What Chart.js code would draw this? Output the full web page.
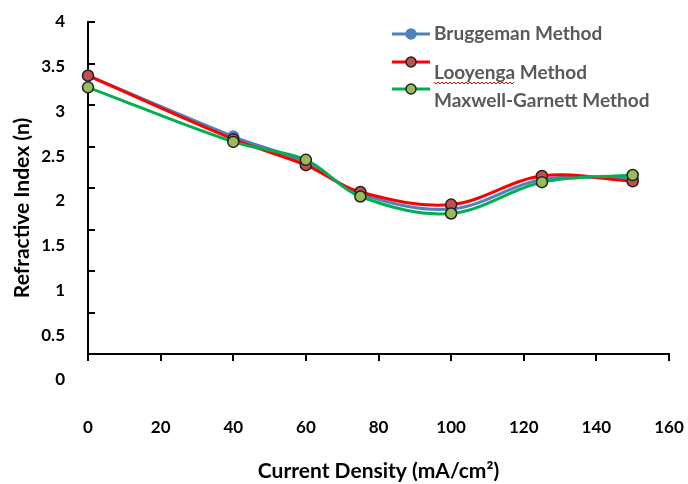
<!DOCTYPE html>
<html>
<head>
<meta charset="utf-8">
<script src="https://cdn.jsdelivr.net/npm/chart.js@4/dist/chart.umd.min.js"></script>
<style>
html,body{margin:0;padding:0;background:#fff;}
#wrap{width:688px;height:484px;position:relative;}
</style>
</head>
<body>
<div id="wrap"><canvas id="c" width="688" height="484"></canvas></div>
<script>
// ---- data ----
const currentDensity = [0, 40, 60, 75, 100, 125, 150];
const bruggeman      = [3.40, 2.72, 2.43, 2.08, 1.91, 2.24, 2.25];
const looyenga       = [3.40, 2.69, 2.40, 2.10, 1.96, 2.28, 2.22];
const maxwellGarnett = [3.27, 2.66, 2.46, 2.05, 1.86, 2.21, 2.29];
const seriesNames = ['Bruggeman Method', 'Looyenga Method', 'Maxwell-Garnett Method'];
const xTickValues = [0, 20, 40, 60, 80, 100, 120, 140, 160];
const yTickValues = [0, 0.5, 1, 1.5, 2, 2.5, 3, 3.5, 4];
const xTitle = 'Current Density (mA/cm\u00B2)';
const yTitle = 'Refractive Index (n)';

const FONT = 'Lato';
const pts = (ys) => currentDensity.map((x, i) => ({x: x, y: ys[i]}));

const styles = [
  {line: '#4F81BD', fill: '#4F81BD', border: '#4F81BD'},
  {line: '#FF0000', fill: '#C0504D', border: '#222222'},
  {line: '#00B050', fill: '#9BBB59', border: '#222222'}
];
const seriesData = [bruggeman, looyenga, maxwellGarnett];

const datasets = seriesData.map((d, i) => ({
  label: seriesNames[i],
  data: pts(d),
  borderColor: styles[i].line,
  borderWidth: 3,
  backgroundColor: styles[i].fill,
  pointBackgroundColor: styles[i].fill,
  pointBorderColor: styles[i].border,
  pointBorderWidth: 1.5,
  pointRadius: 5.5,
  tension: 0.35,
  fill: false,
  clip: false,
  order: 2 - i
}));

const extras = {
  id: 'extras',
  afterDraw(chart) {
    const ctx = chart.ctx;
    const a = chart.chartArea;
    // inner tick marks on y axis
    ctx.save();
    ctx.strokeStyle = '#000';
    ctx.lineWidth = 2;
    for (let k = 1; k <= 8; k++) {
      const y = Math.round(a.bottom - k * (a.bottom - a.top) / 8);
      ctx.beginPath();
      ctx.moveTo(a.left, y);
      ctx.lineTo(a.left + 7, y);
      ctx.stroke();
    }
    ctx.restore();
    // y title
    ctx.save();
    ctx.translate(22, 208);
    ctx.rotate(-Math.PI / 2);
    ctx.font = 'bold 21px ' + FONT;
    ctx.fillStyle = '#000';
    ctx.textAlign = 'center';
    ctx.textBaseline = 'middle';
    ctx.fillText(yTitle, 0, 0);
    ctx.restore();
    // legend
    const lineY = [34, 62, 89];
    const textY = [34, 73, 101];
    ctx.save();
    for (let i = 0; i < 3; i++) {
      ctx.strokeStyle = styles[i].line;
      ctx.lineWidth = 3;
      ctx.beginPath();
      ctx.moveTo(392, lineY[i]);
      ctx.lineTo(430, lineY[i]);
      ctx.stroke();
      ctx.beginPath();
      ctx.arc(411, lineY[i], 5, 0, Math.PI * 2);
      ctx.fillStyle = styles[i].fill;
      ctx.fill();
      ctx.lineWidth = 1.5;
      ctx.strokeStyle = styles[i].border;
      ctx.stroke();
      ctx.font = 'bold 19px ' + FONT;
      ctx.fillStyle = '#595959';
      ctx.textAlign = 'left';
      ctx.textBaseline = 'middle';
      ctx.fillText(seriesNames[i], 434, textY[i]);
    }
    // spell-check squiggle under "Looyenga"
    const w = ctx.measureText('Looyenga').width;
    ctx.strokeStyle = '#FF0000';
    ctx.lineWidth = 1;
    ctx.beginPath();
    let up = true;
    for (let x = 434; x <= 434 + w; x += 2) {
      const y = up ? 82 : 84;
      if (x === 434) ctx.moveTo(x, y); else ctx.lineTo(x, y);
      up = !up;
    }
    ctx.stroke();
    ctx.restore();
  }
};

new Chart(document.getElementById('c'), {
  type: 'line',
  data: {datasets: datasets},
  options: {
    responsive: false,
    animation: false,
    devicePixelRatio: 1,
    layout: {padding: {top: 22, right: 19, bottom: 0, left: 0}},
    plugins: {legend: {display: false}, tooltip: {enabled: false}},
    scales: {
      x: {
        type: 'linear',
        min: 0,
        max: 160,
        afterBuildTicks: (s) => { s.ticks = xTickValues.map(v => ({value: v})); },
        afterFit: (s) => { s.height = 130; s.paddingLeft = 0; s.paddingRight = 0; },
        border: {display: true, color: '#000', width: 2},
        grid: {display: true, drawOnChartArea: false, drawTicks: true, tickLength: 7, color: '#000', lineWidth: 2},
        ticks: {padding: 56, autoSkip: false, maxRotation: 0, color: '#000', font: {family: FONT, weight: 'bold', size: 17}},
        title: {display: true, text: xTitle, color: '#000', padding: {top: 0, bottom: 0}, font: {family: FONT, weight: 'bold', size: 21}}
      },
      y: {
        type: 'linear',
        min: 0.29,
        max: 4,
        afterBuildTicks: (s) => { s.ticks = yTickValues.map(v => ({value: v})); },
        afterFit: (s) => { s.width = 88; s.paddingTop = 0; s.paddingBottom = 0; },
        border: {display: true, color: '#000', width: 2},
        grid: {display: false, drawTicks: false},
        ticks: {padding: 23, autoSkip: false, color: '#000', font: {family: FONT, weight: 'bold', size: 17},
                callback: (v) => String(v)},
        title: {display: false}
      }
    }
  },
  plugins: [extras]
});
</script>
</body>
</html>
